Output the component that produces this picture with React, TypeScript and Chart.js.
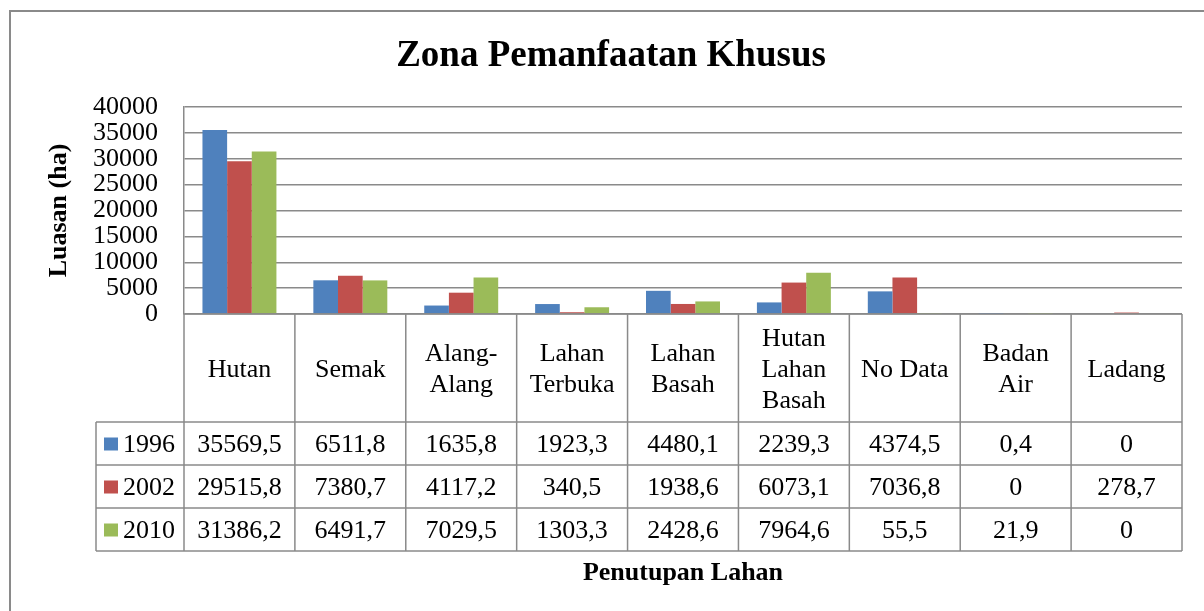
import React, { useEffect, useRef } from "react";
import { Chart, registerables } from "chart.js";

Chart.register(...registerables);

const FONT = '"Liberation Serif", "Times New Roman", serif';

const TITLE = "Zona Pemanfaatan Khusus";
const Y_TITLE = "Luasan (ha)";
const X_TITLE = "Penutupan Lahan";

const categories: string[][] = [
  ["Hutan"],
  ["Semak"],
  ["Alang-", "Alang"],
  ["Lahan", "Terbuka"],
  ["Lahan", "Basah"],
  ["Hutan", "Lahan", "Basah"],
  ["No Data"],
  ["Badan", "Air"],
  ["Ladang"],
];

const seriesNames = ["1996", "2002", "2010"];
const v1996 = [35569.5, 6511.8, 1635.8, 1923.3, 4480.1, 2239.3, 4374.5, 0.4, 0];
const v2002 = [29515.8, 7380.7, 4117.2, 340.5, 1938.6, 6073.1, 7036.8, 0, 278.7];
const v2010 = [31386.2, 6491.7, 7029.5, 1303.3, 2428.6, 7964.6, 55.5, 21.9, 0];
const seriesValues = [v1996, v2002, v2010];
const seriesColors = ["#4F81BD", "#C0504D", "#9BBB59"];

const Y_MIN = 0;
const Y_MAX = 40000;
const Y_STEP = 5000;

const LINE = "#8a8a8a";

const fmt = (v: number) => String(v).replace(".", ",");

const tablePlugin = {
  id: "excelTable",
  afterDraw(chart: any) {
    const ctx: CanvasRenderingContext2D = chart.ctx;
    const ca = chart.chartArea;
    const xs = chart.scales.x;
    const n = categories.length;
    const cw = (ca.right - ca.left) / n;
    const top = ca.bottom;
    const headerBottom = top + 108;
    const rowH = 43;
    const tableBottom = headerBottom + rowH * 3;
    const legendLeft = 96;

    ctx.save();
    // outer border
    ctx.strokeStyle = LINE;
    ctx.lineWidth = 2;
    ctx.strokeRect(10, 11, 1400, 800);

    // title
    ctx.fillStyle = "#000";
    ctx.font = `bold 37px ${FONT}`;
    ctx.textAlign = "center";
    ctx.textBaseline = "alphabetic";
    ctx.fillText(TITLE, 611, 66);

    // table lines
    ctx.strokeStyle = LINE;
    ctx.lineWidth = 1.5;
    ctx.beginPath();
    // horizontal lines
    ctx.moveTo(ca.left, top);
    ctx.lineTo(ca.right, top);
    for (let r = 0; r <= 3; r++) {
      const y = headerBottom + r * rowH;
      ctx.moveTo(legendLeft, y);
      ctx.lineTo(ca.right, y);
    }
    // vertical lines
    for (let i = 0; i <= n; i++) {
      const x = ca.left + i * cw;
      ctx.moveTo(x, top);
      ctx.lineTo(x, tableBottom);
    }
    ctx.moveTo(legendLeft, headerBottom);
    ctx.lineTo(legendLeft, tableBottom);
    ctx.stroke();

    // category labels
    ctx.fillStyle = "#000";
    ctx.font = `26px ${FONT}`;
    ctx.textAlign = "center";
    ctx.textBaseline = "middle";
    const headerMid = (top + headerBottom) / 2 + 2;
    const lh = 31;
    categories.forEach((lines, i) => {
      const cx = xs.getPixelForValue(i);
      lines.forEach((t, k) => {
        ctx.fillText(t, cx, headerMid + (k - (lines.length - 1) / 2) * lh);
      });
    });

    // rows
    seriesValues.forEach((vals, r) => {
      const cy = headerBottom + r * rowH + rowH / 2 + 2;
      // legend key
      ctx.fillStyle = seriesColors[r];
      ctx.fillRect(104, cy - 8, 14, 13);
      ctx.fillStyle = "#000";
      ctx.textAlign = "left";
      ctx.fillText(seriesNames[r], 123, cy);
      ctx.textAlign = "center";
      vals.forEach((v, i) => {
        ctx.fillText(fmt(v), xs.getPixelForValue(i), cy);
      });
    });

    // x axis title
    ctx.font = `bold 26px ${FONT}`;
    ctx.textBaseline = "alphabetic";
    ctx.fillText(X_TITLE, (ca.left + ca.right) / 2, 580);
    ctx.restore();
  },
};

export default function App() {
  const ref = useRef<HTMLCanvasElement | null>(null);

  useEffect(() => {
    if (!ref.current) return;
    const chart = new Chart(ref.current, {
      type: "bar",
      data: {
        labels: categories.map((c) => c.join(" ")),
        datasets: seriesNames.map((name, i) => ({
          label: name,
          data: seriesValues[i],
          backgroundColor: seriesColors[i],
          borderWidth: 0,
          categoryPercentage: 0.667,
          barPercentage: 1,
        })),
      },
      options: {
        responsive: false,
        animation: false,
        layout: { padding: { left: 40, top: 107, right: 22, bottom: 297 } },
        plugins: {
          legend: { display: false },
          title: { display: false },
          tooltip: { enabled: false },
        },
        scales: {
          x: { display: false },
          y: {
            min: Y_MIN,
            max: Y_MAX,
            ticks: {
              stepSize: Y_STEP,
              autoSkip: false,
              padding: 26,
              color: "#000",
              font: { family: FONT, size: 26 },
              callback: (v: any) => String(v),
            },
            grid: { color: LINE, lineWidth: 1.5, drawTicks: false },
            border: { display: true, color: LINE, width: 1.5 },
            title: {
              display: true,
              text: Y_TITLE,
              color: "#000",
              font: { family: FONT, size: 26, weight: "bold" },
              padding: { top: 4, bottom: 0 },
            },
            afterFit: (scale: any) => {
              scale.width = 144;
            },
          },
        },
      },
      plugins: [tablePlugin],
    } as any);
    return () => chart.destroy();
  }, []);

  return (
    <div style={{ position: "fixed", left: 0, top: 0, width: 1204, height: 611, background: "#fff" }}>
      <canvas ref={ref} width={1204} height={611} style={{ display: "block" }} />
    </div>
  );
}
